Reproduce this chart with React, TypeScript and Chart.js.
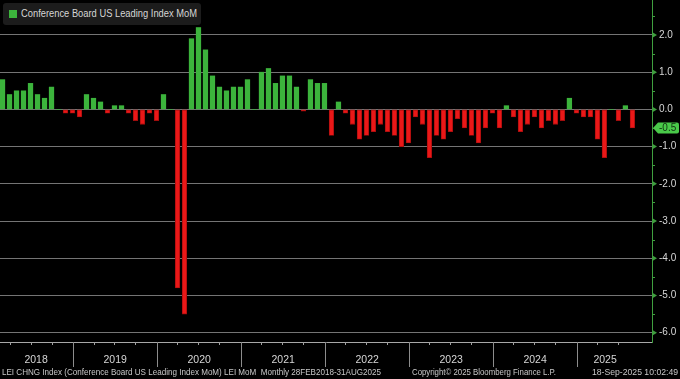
import React, { useEffect, useRef } from 'react';
import { Chart, registerables } from 'chart.js';

Chart.register(...registerables);

// ---------- data ----------
const YEARS = ['2018', '2019', '2020', '2021', '2022', '2023', '2024', '2025'];
const MONTHS = ['Jan', 'Feb', 'Mar', 'Apr', 'May', 'Jun', 'Jul', 'Aug', 'Sep', 'Oct', 'Nov', 'Dec'];
const FIRST_MONTH = 1; // series starts Feb 2018

// Month-over-month % change (one array per calendar year)
const V2018 = [0.8, 0.4, 0.5, 0.5, 0.7, 0.4, 0.3, 0.6, 0.0, -0.1, -0.1]; // Feb..Dec
const V2019 = [-0.2, 0.4, 0.3, 0.2, -0.1, 0.1, 0.1, -0.1, -0.3, -0.4, -0.1, -0.3];
const V2020 = [0.4, 0.0, -4.8, -5.5, 1.9, 2.2, 1.6, 0.9, 0.6, 0.5, 0.6, 0.6];
const V2021 = [0.8, 0.0, 1.0, 1.1, 0.7, 0.9, 0.9, 0.6, -0.05, 0.8, 0.7, 0.7];
const V2022 = [-0.7, 0.2, -0.1, -0.4, -0.8, -0.7, -0.6, -0.4, -0.6, -0.7, -1.0, -0.9];
const V2023 = [-0.2, -0.4, -1.3, -0.7, -0.8, -0.6, -0.25, -0.5, -0.7, -0.9, -0.5, -0.1];
const V2024 = [-0.5, 0.1, -0.2, -0.6, -0.4, -0.2, -0.5, -0.3, -0.4, -0.3, 0.3, -0.1];
const V2025 = [-0.2, -0.2, -0.8, -1.3, 0.0, -0.3, 0.1, -0.5]; // Jan..Aug

const SERIES = [V2018, V2019, V2020, V2021, V2022, V2023, V2024, V2025];

const Y_TICKS = [2, 1, 0, -1, -2, -3, -4, -5, -6];
const Y_MINOR = [2.5, 1.5, 0.5, -0.5, -1.5, -2.5, -3.5, -4.5, -5.5];
const Y_MIN = -6.25;
const Y_MAX = 2.94;
const X_MIN = -0.36;
const X_MAX = 92.8;

const LEGEND_TEXT = 'Conference Board US Leading Index MoM';
const FOOTER_LEFT = 'LEI CHNG Index (Conference Board US Leading Index MoM) LEI MoM  Monthly 28FEB2018-31AUG2025';
const FOOTER_MID = 'Copyright\u00A9 2025 Bloomberg Finance L.P.';
const FOOTER_RIGHT = '18-Sep-2025 10:02:49';

// ---------- styles ----------
const FONT = "'Liberation Sans', Arial, sans-serif";
const GREEN = '#3cb43c';
const RED = '#ea1818';
const RED_EDGE = '#a10d0d';
const AXIS_GREEN = '#3f9f3f';
const FLAG_GREEN = '#49c949';
const GRID = '#747474';
const TEXT = '#d6d6d6';

// ---------- derived ----------
const values: number[] = SERIES.flat();
const monthLabels: string[] = [];
const monthOfIndex: number[] = [];
SERIES.forEach((arr, yi) => {
  arr.forEach((_, mi) => {
    const m = (yi === 0 ? FIRST_MONTH : 0) + mi;
    monthLabels.push(MONTHS[m] + ' ' + YEARS[yi]);
    monthOfIndex.push(m);
  });
});
const points = values.map((v, i) => ({ x: i, y: v }));

// year separators sit at each December bar (month-end = year boundary)
const separators: number[] = [];
monthOfIndex.forEach((m, i) => {
  if (m === 11) separators.push(i + 0.1);
});
const quarterTicks: number[] = [];
monthOfIndex.forEach((m, i) => {
  if (m === 2 || m === 5 || m === 8) quarterTicks.push(i);
});
const yearStart = [-0.5, ...separators];
const yearEnd = [...separators, values.length - 1 + 0.1];
const yearCenters = YEARS.map((_, i) => (yearStart[i] + yearEnd[i]) / 2);

// text width fitting helper (keeps DOM text, squeezes horizontally like the condensed original)
let measureCtx: CanvasRenderingContext2D | null = null;
function squeeze(text: string, size: number, target: number): number {
  if (!measureCtx) measureCtx = document.createElement('canvas').getContext('2d');
  if (!measureCtx) return 1;
  measureCtx.font = `${size}px ${FONT}`;
  const w = measureCtx.measureText(text).width;
  return w > 0 ? target / w : 1;
}

function FitText(props: { text: string; left: number; top: number; size: number; width: number; color: string }) {
  const k = squeeze(props.text, props.size, props.width);
  return (
    <div
      style={{
        position: 'absolute',
        left: props.left,
        top: props.top,
        fontFamily: FONT,
        fontSize: props.size,
        lineHeight: `${props.size + 2}px`,
        color: props.color,
        whiteSpace: 'pre',
        transform: `scaleX(${k})`,
        transformOrigin: 'left top',
      }}
    >
      {props.text}
    </div>
  );
}

const decor = {
  id: 'decor',
  afterDraw(chart: any) {
    const { ctx, chartArea, scales } = chart;
    const xs = scales.x;
    const ys = scales.y;
    const bottom = chartArea.bottom;
    const right = chartArea.right;
    ctx.save();
    // year separators
    ctx.strokeStyle = '#8c8c8c';
    ctx.lineWidth = 1;
    separators.forEach((v) => {
      const x = Math.round(xs.getPixelForValue(v)) + 0.5;
      ctx.beginPath();
      ctx.moveTo(x, bottom);
      ctx.lineTo(x, bottom + 25);
      ctx.stroke();
    });
    // quarter ticks
    ctx.strokeStyle = '#a0a0a0';
    quarterTicks.forEach((v) => {
      const x = Math.round(xs.getPixelForValue(v)) + 0.5;
      ctx.beginPath();
      ctx.moveTo(x, bottom);
      ctx.lineTo(x, bottom + 3);
      ctx.stroke();
    });
    // right-axis arrow markers
    ctx.fillStyle = AXIS_GREEN;
    Y_TICKS.forEach((v) => {
      const y = ys.getPixelForValue(v);
      ctx.beginPath();
      ctx.moveTo(right, y - 3);
      ctx.lineTo(right + 5, y);
      ctx.lineTo(right, y + 3);
      ctx.closePath();
      ctx.fill();
    });
    ctx.strokeStyle = AXIS_GREEN;
    Y_MINOR.forEach((v) => {
      const y = Math.round(ys.getPixelForValue(v)) + 0.5;
      ctx.beginPath();
      ctx.moveTo(right, y);
      ctx.lineTo(right + 3, y);
      ctx.stroke();
    });
    // last value flag
    const last = values[values.length - 1];
    const fy = ys.getPixelForValue(last);
    const fr = chart.width - 1;
    ctx.fillStyle = FLAG_GREEN;
    ctx.beginPath();
    ctx.moveTo(right + 1, fy);
    ctx.lineTo(right + 6, fy - 5.5);
    ctx.lineTo(fr - 2, fy - 5.5);
    ctx.quadraticCurveTo(fr, fy - 5.5, fr, fy - 3.5);
    ctx.lineTo(fr, fy + 3.5);
    ctx.quadraticCurveTo(fr, fy + 5.5, fr - 2, fy + 5.5);
    ctx.lineTo(right + 6, fy + 5.5);
    ctx.closePath();
    ctx.fill();
    ctx.fillStyle = '#123012';
    ctx.font = `10px ${FONT}`;
    ctx.textBaseline = 'middle';
    ctx.textAlign = 'left';
    ctx.fillText(last.toFixed(1), right + 7, fy + 0.5);
    ctx.restore();
  },
};

export default function App() {
  const ref = useRef<HTMLCanvasElement | null>(null);

  useEffect(() => {
    document.body.style.margin = '0';
    document.body.style.background = '#000';
    const canvas = ref.current;
    if (!canvas) return;
    const chart = new Chart(canvas, {
      type: 'bar',
      data: {
        labels: monthLabels,
        datasets: [
          {
            data: points as any,
            barThickness: 4.6,
            backgroundColor: (c: any) => ((c.parsed?.y ?? 0) >= 0 ? GREEN : RED),
            borderColor: (c: any) => ((c.parsed?.y ?? 0) >= 0 ? GREEN : RED_EDGE),
            borderWidth: (c: any) => ((c.parsed?.y ?? 0) >= 0 ? 0 : 0.8),
            borderSkipped: false,
          } as any,
        ],
      },
      options: {
        animation: false,
        responsive: false,
        devicePixelRatio: 1,
        layout: { padding: 0 },
        plugins: { legend: { display: false }, tooltip: { enabled: false } },
        scales: {
          x: {
            type: 'linear',
            min: X_MIN,
            max: X_MAX,
            offset: false,
            position: 'bottom',
            grid: { display: true, drawOnChartArea: false, drawTicks: false, color: 'transparent' },
            border: { display: true, color: '#a8a8a8', width: 1 },
            afterBuildTicks: (s: any) => {
              s.ticks = yearCenters.map((v) => ({ value: v }));
            },
            afterFit: (s: any) => {
              s.height = 37;
              s.paddingLeft = 0;
              s.paddingRight = 0;
            },
            ticks: {
              autoSkip: false,
              maxRotation: 0,
              color: TEXT,
              padding: 12,
              font: { family: FONT, size: 10.5 },
              callback: (_v: any, i: number) => YEARS[i],
            },
          },
          y: {
            type: 'linear',
            position: 'right',
            min: Y_MIN,
            max: Y_MAX,
            afterBuildTicks: (s: any) => {
              s.ticks = Y_TICKS.map((v) => ({ value: v }));
            },
            afterFit: (s: any) => {
              s.width = 28;
              s.paddingTop = 0;
              s.paddingBottom = 0;
            },
            grid: { color: GRID, lineWidth: 1, drawTicks: true, tickLength: 5, tickColor: 'transparent' },
            border: { display: true, color: AXIS_GREEN, width: 1 },
            ticks: {
              color: TEXT,
              padding: 2,
              font: { family: FONT, size: 10 },
              callback: (v: any) => Number(v).toFixed(1),
            },
          },
        },
      } as any,
      plugins: [decor],
    });
    return () => chart.destroy();
  }, []);

  return (
    <div style={{ position: 'fixed', left: 0, top: 0, width: 680, height: 379, background: '#000', overflow: 'hidden' }}>
      <canvas ref={ref} width={680} height={379} style={{ position: 'absolute', left: 0, top: 0, width: 680, height: 379 }} />
      <div style={{ position: 'absolute', left: 3, top: 3, width: 198, height: 22, background: '#1c1c1c', borderRadius: 3 }} />
      <div style={{ position: 'absolute', left: 9, top: 10, width: 8, height: 8, background: GREEN }} />
      <FitText text={LEGEND_TEXT} left={21} top={7} size={11} width={176} color={TEXT} />
      <FitText text={FOOTER_LEFT} left={2} top={366} size={9.5} width={379} color="#c8c8c8" />
      <FitText text={FOOTER_MID} left={412} top={366} size={9.5} width={144} color="#c8c8c8" />
      <FitText text={FOOTER_RIGHT} left={592} top={366} size={9.5} width={86} color="#c8c8c8" />
    </div>
  );
}
